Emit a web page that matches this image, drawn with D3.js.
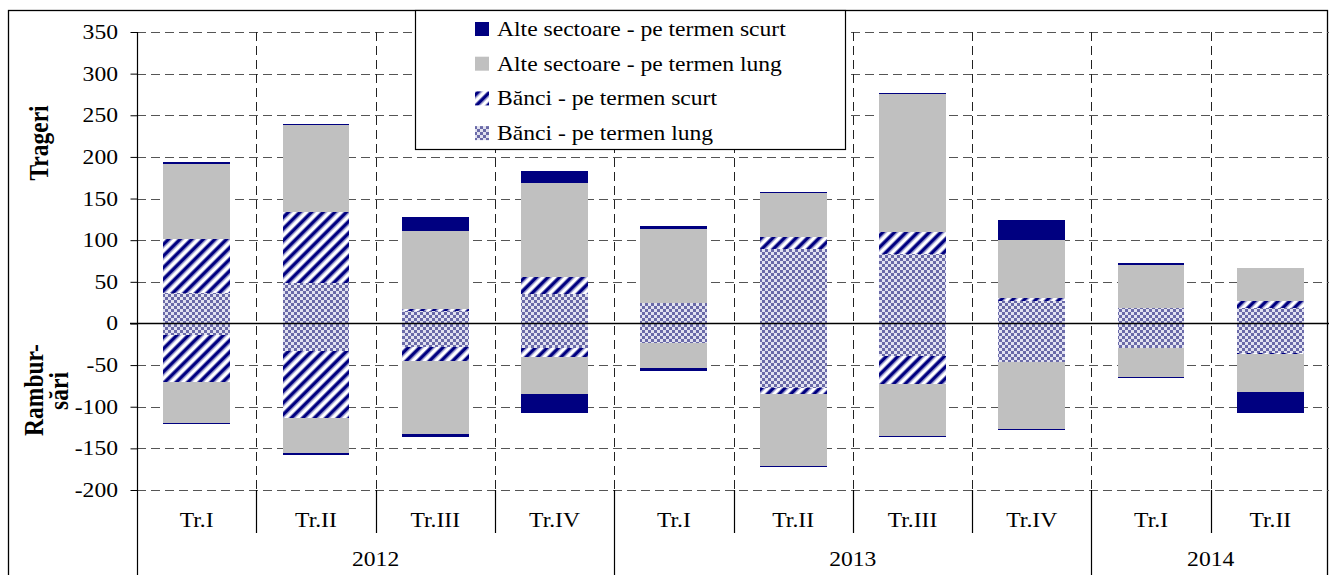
<!DOCTYPE html>
<html><head><meta charset="utf-8">
<script src="https://cdn.jsdelivr.net/npm/d3@7"></script>
<style>body{margin:0;background:#fff}svg{display:block}text{font-family:"Liberation Serif","Times New Roman",serif;fill:#000}</style>
</head><body><svg id="c" width="1329" height="575"></svg>
<script>
const quarters = ["Tr.I","Tr.II","Tr.III","Tr.IV","Tr.I","Tr.II","Tr.III","Tr.IV","Tr.I","Tr.II"];
const years = ["2012","2013","2014"];
const yearSpans = [4,4,2];
const yTicks = [-200,-150,-100,-50,0,50,100,150,200,250,300,350];
const seriesNames = ["Alte sectoare - pe termen scurt","Alte sectoare - pe termen lung","Bănci - pe termen scurt","Bănci - pe termen lung"];
// Trageri (positive)
const bankLongPos   = [37,49,15,35,24,89,83,27,19,18];
const bankShortPos  = [65,85,2,21,0,15,27,3,0,9];
const otherLongPos  = [90,104,94,113,90,53,166,70,51,39];
const otherShortPos = [2,2,17,14,3,1,1,24,3,1];
// Rambursări (negative)
const bankLongNeg   = [-14,-33,-28,-30,-24,-78,-39,-46,-29,-35];
const bankShortNeg  = [-56,-80,-17,-10,0,-7,-34,0,0,-2];
const otherLongNeg  = [-49,-42,-88,-45,-30,-86,-62,-81,-35,-45];
const otherShortNeg = [-2,-3,-3,-23,-3,-1,-1,-1,-1,-25];

const SX = 1.18;
const svg = d3.select("#c");
const defs = svg.append("defs");
const hatch = defs.append("pattern").attr("id","hatch").attr("patternUnits","userSpaceOnUse")
  .attr("width",8.2).attr("height",8).attr("patternTransform","rotate(45)");
hatch.append("rect").attr("width",8.2).attr("height",8).attr("fill","#fff");
hatch.append("rect").attr("x",0).attr("width",3.2).attr("height",8).attr("fill","#000080");
hatch.append("rect").attr("x",3.2).attr("width",0.9).attr("height",8).attr("fill","#8080c0");
hatch.append("rect").attr("x",7.3).attr("width",0.9).attr("height",8).attr("fill","#8080c0");
const chk = defs.append("pattern").attr("id","chk").attr("patternUnits","userSpaceOnUse").attr("width",6).attr("height",6);
chk.append("rect").attr("width",6).attr("height",6).attr("fill","#e2e2f0");
chk.append("rect").attr("width",3).attr("height",3).attr("fill","#6a6aa8");
chk.append("rect").attr("x",3).attr("y",3).attr("width",3).attr("height",3).attr("fill","#6a6aa8");

const fills = {bl:"url(#chk)", bs:"url(#hatch)", ol:"#c0c0c0", os:"#000080"};
const keys = ["bl","bs","ol","os"];

const x = d3.scaleBand().domain(d3.range(quarters.length)).range([137,1330]).paddingInner(0.44).paddingOuter(0.22);
const step = x.step();
const x0 = 137;
const y = d3.scaleLinear().domain([-200,350]).range([490,32]);

function stext(g, tx, ty, str, anchor){
  return g.append("text").attr("transform",`translate(${tx},${ty}) scale(${SX},1)`)
    .attr("text-anchor",anchor||"start").attr("font-size",20).text(str);
}

// outer border
svg.append("rect").attr("x",8.5).attr("y",10.5).attr("width",1319).attr("height",600).attr("fill","none").attr("stroke","#000").attr("stroke-width",1.3);

// grid horizontal
svg.append("g").selectAll("line").data(yTicks.filter(t=>t!==0)).join("line")
  .attr("x1",x0).attr("x2",1329).attr("y1",d=>Math.round(y(d))+0.5).attr("y2",d=>Math.round(y(d))+0.5)
  .attr("stroke","#555").attr("stroke-dasharray","9,5");
// grid vertical
svg.append("g").selectAll("line").data(d3.range(1,quarters.length+1)).join("line")
  .attr("x1",i=>Math.round(x0+i*step)+0.5).attr("x2",i=>Math.round(x0+i*step)+0.5)
  .attr("y1",y(350)).attr("y2",y(-200)).attr("stroke","#222").attr("stroke-dasharray","9,5");

// stacks
const posTable = quarters.map((q,i)=>({bl:bankLongPos[i],bs:bankShortPos[i],ol:otherLongPos[i],os:otherShortPos[i]}));
const negTable = quarters.map((q,i)=>({bl:bankLongNeg[i],bs:bankShortNeg[i],ol:otherLongNeg[i],os:otherShortNeg[i]}));
const stack = d3.stack().keys(keys).offset(d3.stackOffsetDiverging);
[stack(posTable), stack(negTable)].forEach(st=>{
  st.forEach(layer=>{
    svg.append("g").selectAll("rect").data(layer).join("rect")
      .attr("x",(d,i)=>x(i)).attr("width",x.bandwidth())
      .attr("y",d=>y(Math.max(d[0],d[1]))).attr("height",d=>Math.abs(y(d[0])-y(d[1])))
      .attr("fill",fills[layer.key]).attr("shape-rendering","crispEdges");
  });
});

// zero line
svg.append("line").attr("x1",130).attr("x2",1329).attr("y1",Math.round(y(0))+0.5).attr("y2",Math.round(y(0))+0.5).attr("stroke","#000").attr("stroke-width",1.3);

// y axis ticks and labels
const yAxis = d3.axisLeft(y).tickValues(yTicks).tickSize(7).tickFormat("");
const ga = svg.append("g").attr("transform",`translate(${x0+0.5},0)`).call(yAxis);
ga.select(".domain").remove();
ga.selectAll(".tick line").attr("stroke","#000");
const gl = svg.append("g");
yTicks.forEach(t=>stext(gl, 118, y(t)+7, String(t), "end"));
svg.append("line").attr("x1",x0+0.5).attr("x2",x0+0.5).attr("y1",y(350)).attr("y2",575).attr("stroke","#000").attr("stroke-width",1.2);

// x axis category labels
const gx = svg.append("g");
quarters.forEach((q,i)=>stext(gx, x(i)+x.bandwidth()/2, 527, q, "middle"));
// dividers
let cum = 0; const yearStarts = [];
yearSpans.forEach(s=>{yearStarts.push(cum); cum+=s;});
const yearBoundaries = new Set(yearStarts.concat([cum]));
svg.append("g").selectAll("line").data(d3.range(1,quarters.length)).join("line")
  .attr("x1",i=>Math.round(x0+i*step)+0.5).attr("x2",i=>Math.round(x0+i*step)+0.5)
  .attr("y1",490).attr("y2",i=>yearBoundaries.has(i)?575:533).attr("stroke","#000").attr("stroke-width",1.2);
years.forEach((yr,i)=>stext(gx, x0+(yearStarts[i]+yearSpans[i]/2)*step, 566, yr, "middle"));

// axis titles
svg.append("text").attr("transform","translate(48,143) rotate(-90) scale(1,1.12)").attr("text-anchor","middle").attr("font-size",23.5).attr("font-weight","bold").text("Trageri");
svg.append("text").attr("transform","translate(43,390) rotate(-90) scale(1,1.12)").attr("text-anchor","middle").attr("font-size",23.5).attr("font-weight","bold").text("Rambur-");
svg.append("text").attr("transform","translate(68,391) rotate(-90) scale(1,1.12)").attr("text-anchor","middle").attr("font-size",23.5).attr("font-weight","bold").text("sări");

// legend
const lg = svg.append("g");
lg.append("rect").attr("x",415.5).attr("y",10.5).attr("width",430).attr("height",139).attr("fill","#fff").attr("stroke","#000").attr("stroke-width",1.2);
const legendFills = [fills.os, fills.ol, fills.bs, fills.bl];
seriesNames.forEach((n,i)=>{
  const cy = 29 + i*34.7;
  lg.append("rect").attr("x",475).attr("y",cy-7).attr("width",14).attr("height",14).attr("fill",legendFills[i]);
  stext(lg, 497, cy+7, n, "start");
});
</script></body></html>
